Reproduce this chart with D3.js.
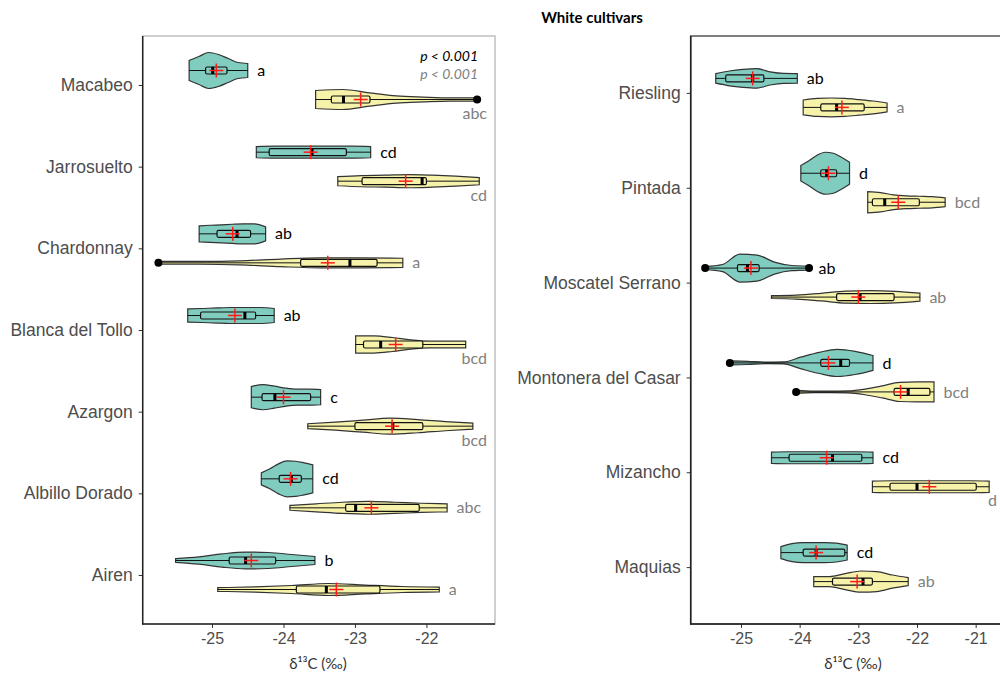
<!DOCTYPE html>
<html>
<head>
<meta charset="utf-8">
<script src="https://cdn.jsdelivr.net/npm/d3@7"></script>
<style>
  body { margin: 0; background: #fff; }
  svg { display: block; }
</style>
</head>
<body>
<div id="chart"></div>
<script>
// ---- data ----
// dens = relative violin width at evenly spaced points from min to max
var leftCultivars = ["Macabeo", "Jarrosuelto", "Chardonnay", "Blanca del Tollo", "Azargon", "Albillo Dorado", "Airen"];

var leftTeal = [
  {min: -25.32, q1: -25.09, med: -24.99, q3: -24.79, max: -24.50, mean: -24.94, out: [], dens: [.50, .70, .90, .80, .60, .40, .35]},
  {min: -24.38, q1: -24.20, med: -23.60, q3: -23.12, max: -22.78, mean: -23.62, out: [], dens: [.28, .30, .30, .30, .30, .30, .28]},
  {min: -25.18, q1: -24.93, med: -24.65, q3: -24.46, max: -24.25, mean: -24.71, out: [], dens: [.40, .43, .45, .48, .50, .50, .35]},
  {min: -25.34, q1: -25.16, med: -24.54, q3: -24.39, max: -24.13, mean: -24.68, out: [], dens: [.33, .35, .38, .40, .40, .40, .35]},
  {min: -24.45, q1: -24.30, med: -24.12, q3: -23.62, max: -23.48, mean: -24.00, out: [], dens: [.53, .63, .55, .45, .40, .40, .38]},
  {min: -24.31, q1: -24.06, med: -23.89, q3: -23.75, max: -23.59, mean: -23.90, out: [], dens: [.30, .50, .75, .90, .88, .80, .70]},
  {min: -25.51, q1: -24.76, med: -24.53, q3: -24.11, max: -23.56, mean: -24.45, out: [], dens: [.09, .18, .33, .42, .40, .30, .20]}
];
var leftYellow = [
  {min: -23.55, q1: -23.33, med: -23.16, q3: -22.79, max: -21.29, mean: -22.92, out: [-21.29], dens: [.45, .50, .33, .18, .12, .08, .08]},
  {min: -23.24, q1: -22.90, med: -22.06, q3: -22.00, max: -21.26, mean: -22.29, out: [], dens: [.23, .28, .30, .33, .30, .25, .18]},
  {min: -25.75, q1: -23.76, med: -23.07, q3: -22.69, max: -22.33, mean: -23.38, out: [-25.75], dens: [.07, .07, .10, .19, .25, .25, .23]},
  {min: -22.99, q1: -22.88, med: -22.64, q3: -22.05, max: -21.45, mean: -22.43, out: [], dens: [.43, .43, .35, .23, .17, .17, .17]},
  {min: -23.66, q1: -23.00, med: -22.47, q3: -22.05, max: -21.35, mean: -22.48, out: [], dens: [.12, .20, .30, .40, .33, .23, .15]},
  {min: -23.91, q1: -23.13, med: -22.99, q3: -22.10, max: -21.71, mean: -22.77, out: [], dens: [.12, .20, .28, .32, .28, .23, .20]},
  {min: -24.92, q1: -23.82, med: -23.40, q3: -22.65, max: -21.82, mean: -23.26, out: [], dens: [.09, .13, .20, .30, .22, .15, .12]}
];
var leftTealLetters = ["a", "cd", "ab", "ab", "c", "cd", "b"];
var leftYellowLetters = ["abc", "cd", "a", "bcd", "bcd", "abc", "a"];

var rightCultivars = ["Riesling", "Pintada", "Moscatel Serrano", "Montonera del Casar", "Mizancho", "Maquias"];

var rightTeal = [
  {min: -25.43, q1: -25.26, med: -24.80, q3: -24.61, max: -24.04, mean: -24.80, out: [], dens: [.24, .37, .45, .49, .33, .25, .24]},
  {min: -23.98, q1: -23.64, med: -23.54, q3: -23.37, max: -23.15, mean: -23.51, out: [], dens: [.39, .63, .90, 1.05, 1.0, .80, .55]},
  {min: -25.61, q1: -25.06, med: -24.89, q3: -24.69, max: -23.84, mean: -24.83, out: [-25.61, -23.84], dens: [.08, .18, .70, .65, .30, .13, .10]},
  {min: -25.19, q1: -23.64, med: -23.30, q3: -23.15, max: -22.75, mean: -23.51, out: [-25.19], dens: [.10, .08, .04, .05, .30, .53, .68, .58, .37]},
  {min: -24.48, q1: -24.18, med: -23.44, q3: -22.94, max: -22.75, mean: -23.54, out: [], dens: [.28, .30, .30, .30, .30, .30, .28]},
  {min: -24.32, q1: -23.94, med: -23.72, q3: -23.23, max: -23.19, mean: -23.72, out: [], dens: [.30, .45, .50, .50, .50, .47, .37]}
];
var rightYellow = [
  {min: -23.94, q1: -23.64, med: -23.37, q3: -22.90, max: -22.51, mean: -23.28, out: [], dens: [.37, .45, .47, .45, .39, .32, .22]},
  {min: -22.84, q1: -22.76, med: -22.55, q3: -21.96, max: -21.52, mean: -22.32, out: [], dens: [.53, .48, .37, .32, .30, .28, .22]},
  {min: -24.48, q1: -23.37, med: -22.97, q3: -22.39, max: -21.95, mean: -23.00, out: [], dens: [.07, .10, .19, .30, .32, .29, .20]},
  {min: -24.06, q1: -22.39, med: -22.15, q3: -21.78, max: -21.71, mean: -22.28, out: [-24.06], dens: [.08, .04, .04, .05, .14, .30, .48, .50, .50]},
  {min: -22.76, q1: -22.46, med: -22.00, q3: -20.99, max: -20.77, mean: -21.79, out: [], dens: [.28, .30, .30, .30, .30, .30, .28]},
  {min: -23.76, q1: -23.44, med: -22.92, q3: -22.76, max: -22.15, mean: -23.02, out: [], dens: [.25, .25, .40, .53, .50, .33, .20]}
];
var rightTealLetters = ["ab", "d", "ab", "d", "cd", "cd"];
var rightYellowLetters = ["a", "bcd", "ab", "bcd", "d", "ab"];

var xTicks = [-25, -24, -23, -22, -21];
var pTexts = ["p < 0.001", "p < 0.001"];

// ---- layout ----
var svgWidth = 1000, svgHeight = 673;
var plotTop = 36, plotBottom = 624;
var tealColor = "#80cdbf", yellowColor = "#f6f2aa";
var dodge = 14.5;

var svg = d3.select("#chart").append("svg")
  .attr("width", svgWidth)
  .attr("height", svgHeight);

svg.append("text")
  .attr("x", 592).attr("y", 23)
  .attr("text-anchor", "middle")
  .style("font-family", "Lato, 'Open Sans', sans-serif")
  .style("font-weight", "bold")
  .style("font-size", "15px")
  .text("White cultivars");

// width scale for the violins (shared)
var wScale = d3.scaleLinear().domain([0, 1]).range([0, 20]);

function drawPanel(opt) {
  var g = svg.append("g");
  var x = d3.scaleLinear().domain(opt.domain).range([opt.x0, opt.x1]);
  var y = d3.scalePoint().domain(opt.cultivars).range([plotTop, plotBottom]).padding(0.6);

  // frame
  g.append("rect")
    .attr("x", opt.x0).attr("y", plotTop)
    .attr("width", opt.x1 - opt.x0).attr("height", plotBottom - plotTop)
    .attr("fill", "none")
    .attr("stroke", opt.frameColor)
    .attr("stroke-width", opt.frameWidth);

  // axes
  var xAxis = g.append("g")
    .attr("transform", "translate(0," + plotBottom + ")")
    .call(d3.axisBottom(x).tickValues(xTicks.filter(function(t) { return t > opt.domain[0] && t < opt.domain[1] - 0.2; }))
      .tickSize(4).tickPadding(5).tickFormat(function(d) { return String(d); }));
  var yAxis = g.append("g")
    .attr("transform", "translate(" + opt.x0 + ",0)")
    .call(d3.axisLeft(y).tickSize(4).tickPadding(6));
  [xAxis, yAxis].forEach(function(a) {
    a.select(".domain").remove();
    a.selectAll(".tick line").attr("stroke", "#333");
    a.selectAll("text")
      .attr("fill", "#4d4d4d")
      .style("font-family", "'Liberation Sans', Arial, sans-serif")
      .style("font-size", "16px");
  });
  yAxis.selectAll("text").style("font-size", "17.5px");
  g.append("line")
    .attr("x1", opt.x0).attr("x2", opt.x0).attr("y1", plotTop).attr("y2", plotBottom + 0.75)
    .attr("stroke", "#222").attr("stroke-width", 1.5);
  g.append("line")
    .attr("x1", opt.x0).attr("x2", opt.x1).attr("y1", plotBottom).attr("y2", plotBottom)
    .attr("stroke", "#222").attr("stroke-width", 1.5);

  g.append("text")
    .attr("x", opt.titleX).attr("y", 669)
    .attr("text-anchor", "middle")
    .attr("fill", "#333")
    .style("font-family", "Lato, 'Open Sans', sans-serif")
    .style("font-size", "15px")
    .text("δ¹³C (‰)");

  function violin(d, cy, fill, letter, letterColor) {
    var n = d.dens.length;
    var pts = d.dens.map(function(v, i) {
      return {v: d.min + (d.max - d.min) * i / (n - 1), w: v};
    });
    var area = d3.area()
      .x(function(p) { return x(p.v); })
      .y0(function(p) { return cy - wScale(p.w); })
      .y1(function(p) { return cy + wScale(p.w); })
      .curve(d3.curveMonotoneX);
    g.append("path")
      .attr("d", area(pts))
      .attr("fill", fill)
      .attr("stroke", "#333")
      .attr("stroke-width", 1.2);
    g.append("line")
      .attr("x1", x(d.min)).attr("x2", x(d.max))
      .attr("y1", cy).attr("y2", cy)
      .attr("stroke", "#111").attr("stroke-width", 1);
    g.append("rect")
      .attr("x", x(d.q1)).attr("y", cy - 3.5)
      .attr("width", x(d.q3) - x(d.q1)).attr("height", 7)
      .attr("rx", 1.5)
      .attr("fill", fill)
      .attr("stroke", "#111").attr("stroke-width", 1.2);
    g.append("rect")
      .attr("x", x(d.med) - 1.5).attr("y", cy - 3.5)
      .attr("width", 3).attr("height", 7)
      .attr("fill", "#000");
    d.out.forEach(function(o) {
      g.append("circle")
        .attr("cx", x(o)).attr("cy", cy).attr("r", 4)
        .attr("fill", "#000");
    });
    var mx = x(d.mean);
    g.append("line").attr("x1", mx - 7).attr("x2", mx + 7).attr("y1", cy).attr("y2", cy)
      .attr("stroke", "#ff1a1a").attr("stroke-width", 1.5);
    g.append("line").attr("x1", mx).attr("x2", mx).attr("y1", cy - 7).attr("y2", cy + 7)
      .attr("stroke", "#ff1a1a").attr("stroke-width", 1.5);

    var t = g.append("text")
      .attr("x", x(d.max) + 9.5).attr("y", cy)
      .attr("dy", "0.35em")
      .attr("fill", letterColor)
      .style("font-family", "Lato, 'Open Sans', sans-serif")
      .style("font-size", "16px")
      .text(letter);
    // letters that would run past the frame go below the violin
    if (x(d.max) + 9.5 + t.node().getComputedTextLength() > opt.x1 - 4) {
      t.attr("x", opt.x1 - 8).attr("y", cy + 14).attr("text-anchor", "end");
    }
  }

  opt.cultivars.forEach(function(c, i) {
    violin(opt.teal[i], y(c) - dodge, tealColor, opt.tealLetters[i], "#000");
    violin(opt.yellow[i], y(c) + dodge, yellowColor, opt.yellowLetters[i], "#808080");
  });
  return g;
}

var leftG = drawPanel({
  cultivars: leftCultivars, teal: leftTeal, yellow: leftYellow,
  tealLetters: leftTealLetters, yellowLetters: leftYellowLetters,
  domain: [-25.97, -21.04], x0: 142.7, x1: 495,
  frameColor: "#a0a0a0", frameWidth: 1, titleX: 318
});

drawPanel({
  cultivars: rightCultivars, teal: rightTeal, yellow: rightYellow,
  tealLetters: rightTealLetters, yellowLetters: rightYellowLetters,
  domain: [-25.857, -20.5], x0: 690.7, x1: 1005,
  frameColor: "#555", frameWidth: 1.5, titleX: 853
});

// p-values in the left panel
leftG.selectAll(".pval")
  .data(pTexts)
  .enter()
  .append("text")
  .attr("class", "pval")
  .attr("x", 478)
  .attr("y", function(d, i) { return 61 + i * 18; })
  .attr("text-anchor", "end")
  .attr("fill", function(d, i) { return i === 0 ? "#000" : "#808080"; })
  .style("font-family", "Lato, 'Open Sans', sans-serif")
  .style("font-style", "italic")
  .style("font-size", "14px")
  .text(function(d) { return d; });
</script>
</body>
</html>
